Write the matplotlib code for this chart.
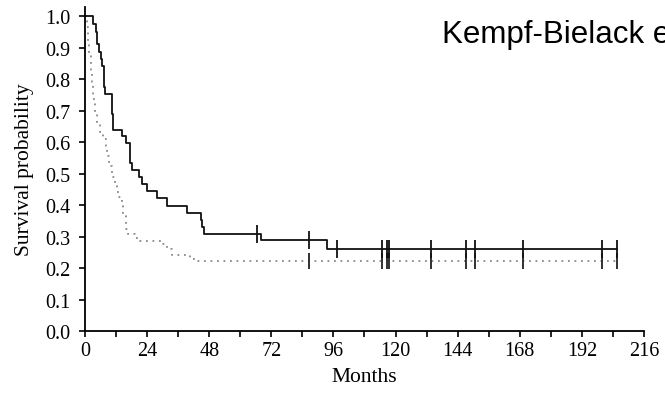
import matplotlib
matplotlib.use("Agg")
import matplotlib.pyplot as plt
from matplotlib.ticker import MultipleLocator

# solid curve: event times (months) and survival after each step
t_solid = [0, 3.1, 4.1, 4.75, 5.5, 6.2, 6.7, 7.3, 7.8, 10.3, 10.9, 14.2, 15.8,
           17.4, 18.3, 21.0, 21.9, 23.8, 27.7, 31.6, 39.5, 44.8, 45.3, 46.0,
           67.9, 93.6, 205.4]
s_solid = [1.0, 0.977, 0.951, 0.912, 0.887, 0.865, 0.844, 0.775, 0.754, 0.69,
           0.64, 0.62, 0.597, 0.534, 0.512, 0.489, 0.468, 0.444, 0.423, 0.397,
           0.375, 0.352, 0.331, 0.309, 0.289, 0.261, 0.261]
cens_solid = [66.6, 86.7, 97.3, 114.6, 116.6, 117.3, 133.7, 147.1, 150.8,
              169.2, 199.6, 205.4]

# dotted curve
t_dot = [0, 0.4, 0.9, 1.3, 1.7, 2.2, 2.6, 3.2, 3.9, 4.8, 5.8, 7.1, 8.1, 8.5,
         9.3, 10.3, 11.6, 12.5, 13.3, 14.2, 14.8, 15.7, 16.7, 19.3, 21.3,
         29.6, 31.6, 33.5, 40.6, 42.5, 205.4]
s_dot = [1.0, 0.985, 0.966, 0.923, 0.876, 0.828, 0.791, 0.737, 0.695, 0.658,
         0.632, 0.611, 0.589, 0.558, 0.526, 0.489, 0.462, 0.441, 0.425, 0.399,
         0.367, 0.325, 0.309, 0.295, 0.287, 0.277, 0.261, 0.242, 0.229, 0.222,
         0.222]
cens_dot = [86.7, 114.6, 116.6, 117.3, 133.7, 147.1, 150.8, 169.2, 199.6,
            205.4]


def surv_at(times, surv, x):
    v = surv[0]
    for t, s in zip(times, surv):
        if t <= x:
            v = s
    return v


plt.rcParams['font.family'] = ['Liberation Serif', 'DejaVu Serif']

fig = plt.figure(figsize=(6.65, 4.02), dpi=100)
ax = fig.add_axes([0.1278, 0.1741, 0.9684 - 0.1278, 0.980 - 0.1741])

ax.step(t_dot, s_dot, where='post', color='#8a8a8a', lw=1.3,
        dashes=(1, 2.6))
ax.step(t_solid, s_solid, where='post', color='#111111', lw=1.3)

ax.plot(cens_dot, [surv_at(t_dot, s_dot, c) for c in cens_dot], ls='none',
        marker='|', ms=12, mew=1.3, color='#222222')
ax.plot(cens_solid, [surv_at(t_solid, s_solid, c) for c in cens_solid],
        ls='none', marker='|', ms=13, mew=1.3, color='#111111')

ax.set_xlim(0, 216)
ax.set_ylim(0, 1.03)
ax.xaxis.set_major_locator(MultipleLocator(24))
ax.xaxis.set_minor_locator(MultipleLocator(12))
ax.yaxis.set_major_locator(MultipleLocator(0.1))
ax.yaxis.set_major_formatter(plt.FuncFormatter(lambda v, p: '%.1f' % v))

for side in ['top', 'right']:
    ax.spines[side].set_visible(False)
for side in ['left', 'bottom']:
    ax.spines[side].set_linewidth(1.3)

ax.tick_params(axis='both', which='both', direction='out', length=4.5,
               width=1.2, labelsize=14.5)
ax.tick_params(axis='x', which='major', pad=3)
ax.tick_params(axis='y', which='major', pad=6)

ax.set_xlabel('Months', fontsize=15.5, labelpad=5)
ax.set_ylabel('Survival probability', fontsize=15.5, labelpad=8)

fig.text(442 / 665, 1 - 43 / 402, 'Kempf-Bielack e', family='Liberation Sans',
         fontsize=22.5, va='baseline', ha='left')

fig.savefig('out.png', dpi=100)
